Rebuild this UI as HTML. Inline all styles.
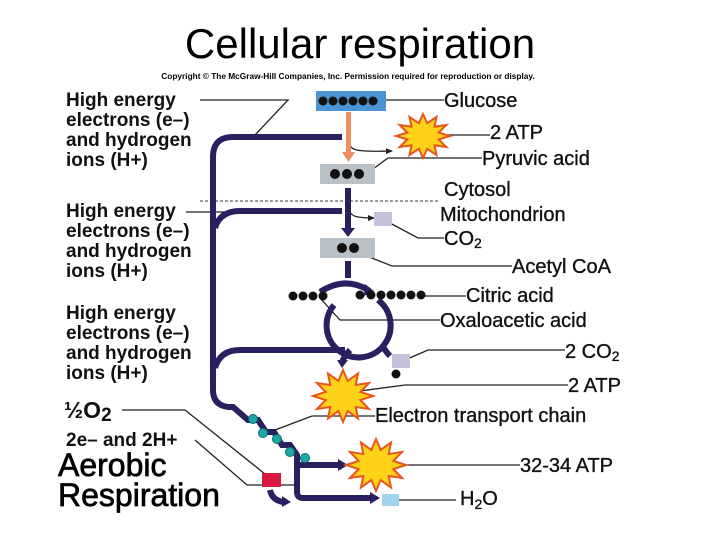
<!DOCTYPE html>
<html><head><meta charset="utf-8"><style>
body{margin:0;width:720px;height:540px;background:#fff;overflow:hidden}
svg text{font-family:"Liberation Sans",sans-serif}
</style></head><body>
<svg width="720" height="540" viewBox="0 0 720 540">
<defs>
<polygon id="st" points="1,0 0.58,0.155 0.866,0.5 0.424,0.424 0.5,0.866 0.155,0.58 0,1 -0.155,0.58 -0.5,0.866 -0.424,0.424 -0.866,0.5 -0.58,0.155 -1,0 -0.58,-0.155 -0.866,-0.5 -0.424,-0.424 -0.5,-0.866 -0.155,-0.58 0,-1 0.155,-0.58 0.5,-0.866 0.424,-0.424 0.866,-0.5 0.58,-0.155" fill="#ffd21a" stroke="#e8541a" stroke-width="2" vector-effect="non-scaling-stroke"/>
<marker id="sa" markerWidth="8" markerHeight="8" refX="6" refY="4" orient="auto" markerUnits="userSpaceOnUse"><path d="M0,1 L7,4 L0,7Z" fill="#222"/></marker>
</defs>
<text x="360" y="58" font-size="42" text-anchor="middle">Cellular respiration</text>
<text x="348" y="79" font-size="8.3" font-weight="bold" text-anchor="middle">Copyright © The McGraw-Hill Companies, Inc. Permission required for reproduction or display.</text>

<g font-size="19" font-weight="bold" fill="#111">
<text x="66" y="106">High energy</text><text x="66" y="126">electrons (e–)</text><text x="66" y="146">and hydrogen</text><text x="66" y="166">ions (H+)</text>
<text x="66" y="217">High energy</text><text x="66" y="237">electrons (e–)</text><text x="66" y="257">and hydrogen</text><text x="66" y="277">ions (H+)</text>
<text x="66" y="319">High energy</text><text x="66" y="339">electrons (e–)</text><text x="66" y="359">and hydrogen</text><text x="66" y="379">ions (H+)</text>
<text x="64" y="418" font-size="23">½O<tspan font-size="19" dy="3">2</tspan></text>
<text x="66" y="446">2e– and 2H+</text>
</g>
<g font-size="32" stroke="#000" stroke-width="0.7">
<text x="58" y="476">Aerobic</text>
<text x="58" y="506">Respiration</text>
</g>

<g font-size="20" fill="#111" stroke="#111" stroke-width="0.35">
<text x="444" y="107">Glucose</text>
<text x="490" y="139">2 ATP</text>
<text x="482" y="165">Pyruvic acid</text>
<text x="444" y="196">Cytosol</text>
<text x="440" y="221">Mitochondrion</text>
<text x="444" y="245">CO<tspan font-size="14" dy="3">2</tspan></text>
<text x="512" y="273">Acetyl CoA</text>
<text x="466" y="302">Citric acid</text>
<text x="440" y="327">Oxaloacetic acid</text>
<text x="565" y="358">2 CO<tspan font-size="14" dy="3">2</tspan></text>
<text x="568" y="392">2 ATP</text>
<text x="375" y="422">Electron transport chain</text>
<text x="520" y="472">32-34  ATP</text>
<text x="460" y="505">H<tspan font-size="14" dy="4">2</tspan><tspan dy="-4">O</tspan></text>
</g>

<line x1="200" y1="201" x2="440" y2="201" stroke="#333" stroke-dasharray="3,2" stroke-width="1"/>

<g stroke="#222" stroke-width="1.3" fill="none">
<path d="M200,100 H288 L255,135"/>
<path d="M386,100 H444"/>
<path d="M432,135 H490"/>
<path d="M362,177 L388,158 H482"/>
<path d="M186,212 H252"/>
<path d="M388,222 L418,238 H444"/>
<path d="M364,255 L392,266 H512"/>
<path d="M420,296 H466"/>
<path d="M320,298 L340,320 H440"/>
<path d="M405,360 L428,350 H565"/>
<path d="M345,393 L405,385 H568"/>
<path d="M275,430 L312,416 H375"/>
<path d="M380,465 H520"/>
<path d="M392,500 H456"/>
<path d="M122,410 H185 L270,478"/>
<path d="M195,440 L247,485 H295"/>
<path d="M350,145 C352,150 356,152 392,151" marker-end="url(#sa)"/>
<path d="M350,212 C352,216 356,218 374,218" marker-end="url(#sa)"/>
</g>

<rect x="316" y="91" width="70" height="20" fill="#4b93d3"/>
<g fill="#111"><circle cx="323" cy="101" r="4.5"/><circle cx="333" cy="101" r="4.5"/><circle cx="343" cy="101" r="4.5"/><circle cx="353" cy="101" r="4.5"/><circle cx="363" cy="101" r="4.5"/><circle cx="373" cy="101" r="4.5"/></g>
<rect x="346" y="112" width="5" height="42" fill="#ee9060"/>
<path d="M342,152 L355,152 L348.5,162Z" fill="#ee9060"/>
<rect x="320" y="164" width="55" height="20" fill="#b9c0c6"/>
<g fill="#111"><circle cx="335" cy="174" r="5"/><circle cx="347" cy="174" r="5"/><circle cx="359" cy="174" r="5"/></g>
<rect x="374" y="212" width="18" height="14" fill="#c7c2dc"/>
<rect x="320" y="238" width="55" height="20" fill="#b9c0c6"/>
<g fill="#111"><circle cx="342" cy="248" r="5"/><circle cx="354" cy="248" r="5"/></g>
<rect x="392" y="354" width="18" height="14" fill="#c7c2dc"/>
<circle cx="396" cy="374" r="4.5" fill="#111"/>
<rect x="262" y="473" width="19" height="14" fill="#d8183c"/>
<rect x="382" y="494" width="17" height="12" fill="#9fd3f0"/>

<g stroke="#2a2060" stroke-width="6" fill="none" stroke-linecap="butt">
<path d="M342,137 H233 Q213,137 213,157 V390 Q213,405 228,407 H233 L248,420 H258 L266,432 H274 L282,445 H290 L297,455 V492 Q297,498 303,498 H372"/>
<path d="M342,211 H240 Q220,211 215,228"/>
<path d="M345,350 H240 Q220,350 215,368"/>
<path d="M297,465 H340"/>
<path d="M348,188 V230"/>
<path d="M348,261 V278"/>
<path d="M320,292 Q345,276 368,290"/>
<path d="M334,305 A32,32 0 1 0 378,300"/>
<path d="M350,350 Q345,355 342,362"/>
<path d="M382,345 Q386,352 390,356"/>
<path d="M270,490 Q272,500 283,502"/>
</g>
<g fill="#2a2060">
<path d="M341,228 L355,228 L348,237Z"/><path d="M365,284 L374,291 L364,296Z"/>
<path d="M337,360 L348,360 L342,368Z"/>
<path d="M338,459 L348,465 L338,471Z"/><path d="M370,492 L380,498 L370,504Z"/>
<path d="M282,496 L291,502 L282,507Z"/>
</g>
<g fill="#111">
<circle cx="293" cy="296" r="4.5"/><circle cx="303" cy="296" r="4.5"/><circle cx="313" cy="296" r="4.5"/><circle cx="323" cy="296" r="4.5"/>
<circle cx="360" cy="295" r="4.5"/><circle cx="371" cy="295" r="4.5"/><circle cx="381" cy="295" r="4.5"/><circle cx="391" cy="295" r="4.5"/><circle cx="401" cy="295" r="4.5"/><circle cx="411" cy="295" r="4.5"/><circle cx="421" cy="295" r="4.5"/>
</g>
<g fill="#1aa7a7" stroke="#0b6c6c" stroke-width="1">
<circle cx="253" cy="419" r="4.5"/><circle cx="263" cy="433" r="4.5"/><circle cx="277" cy="439" r="4.5"/><circle cx="290" cy="452" r="4.5"/><circle cx="305" cy="458" r="4.5"/>
</g>

<use href="#st" transform="translate(423,136) scale(27,22)"/>
<use href="#st" transform="translate(343,396) scale(30,26)"/>
<use href="#st" transform="translate(376,465) scale(30,26)"/>
</svg>
</body></html>
